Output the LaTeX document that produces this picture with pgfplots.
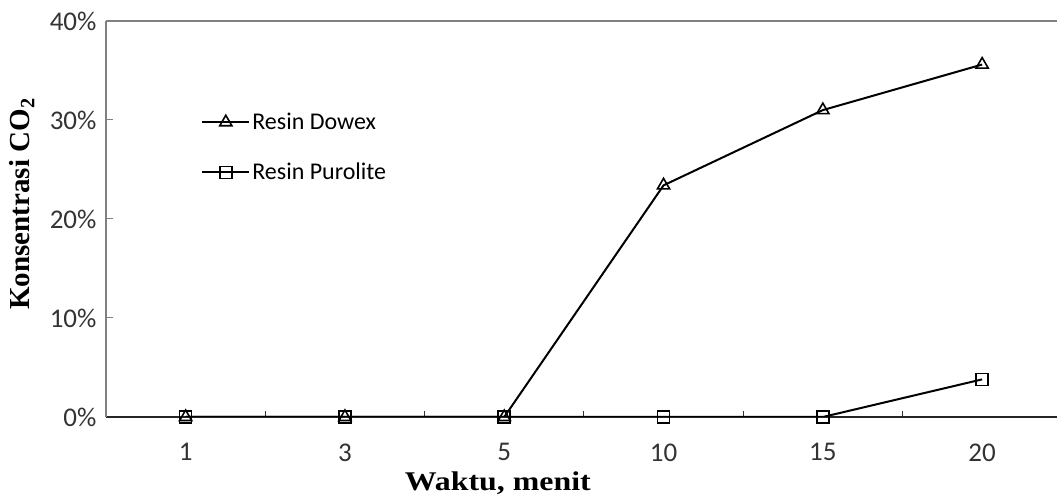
\documentclass[border=0pt]{standalone}
\usepackage{fontspec}
\setmainfont{Carlito}
\newfontfamily\tnr{Liberation Serif}
\newfontfamily\tnrwide[FakeStretch=1.18]{Liberation Serif}
\usepackage{pgfplots}
\pgfplotsset{compat=1.18}
\begin{document}
\begin{tikzpicture}
\useasboundingbox (-106pt,-80pt) rectangle (951pt,417pt);
\begin{axis}[
    scale only axis, width=951pt, height=396pt,
    at={(0pt,0pt)}, anchor=south west,
    xmin=-0.5, xmax=5.47, ymin=0, ymax=40,
    axis x line*=bottom, axis y line*=left,
    x axis line style={black!85, line width=1.4pt},
    y axis line style={gray, line width=1.6pt},
    xtick={0,...,5}, xticklabels={1,3,5,10,15,20},
    minor xtick={0.5,1.5,2.5,3.5,4.5},
    major x tick style={draw=none},
    minor x tick style={black!80, line width=1pt},
    minor tick length=6pt,
    ytick={0,10,20,30,40},
    y tick style={gray, line width=1pt},
    major tick length=7pt,
    tick align=inside,
    /pgf/number format/assume math mode=true,
    yticklabel={\pgfmathprintnumber{\tick}\%},
    tick label style={font=\fontsize{27}{30}\selectfont, text=black!80},
    x tick label style={yshift=-23pt},
    y tick label style={xshift=-6pt},
    xlabel={Waktu, menit},
    xlabel style={at={(axis description cs:0.412,-0.166)}, anchor=center,
        font=\tnrwide\bfseries\fontsize{27}{30}\selectfont},
    ylabel={Konsentrasi CO\textsubscript{2}},
    ylabel style={at={(axis description cs:-0.0885,0.538)}, anchor=center,
        font=\tnr\bfseries\fontsize{29}{32}\selectfont},
    legend style={at={(axis description cs:0.1,0.681)}, anchor=west, draw=none, fill=none,
        inner sep=0pt, row sep=28pt, font=\fontsize{24}{28}\selectfont},
    legend cell align=left,
    legend image code/.code={\draw[mark repeat=2,mark phase=2,#1] plot coordinates {(0pt,0pt) (23.5pt,0pt) (47pt,0pt)};},
]
\draw[gray, line width=1.6pt] (rel axis cs:0,1) -- (rel axis cs:1,1);
\addplot[black, line width=2pt, mark=triangle, mark size=7pt, mark options={line width=1.6pt}]
    coordinates {(0,0) (1,0) (2,0) (3,23.4) (4,31.0) (5,35.6)};
\addlegendentry{Resin Dowex}
\addplot[black, line width=2pt, mark=square, mark size=6pt, mark options={line width=1.6pt}]
    coordinates {(0,0) (1,0) (2,0) (3,0) (4,0) (5,3.8)};
\addlegendentry{Resin Purolite}
\end{axis}
\end{tikzpicture}
\end{document}
